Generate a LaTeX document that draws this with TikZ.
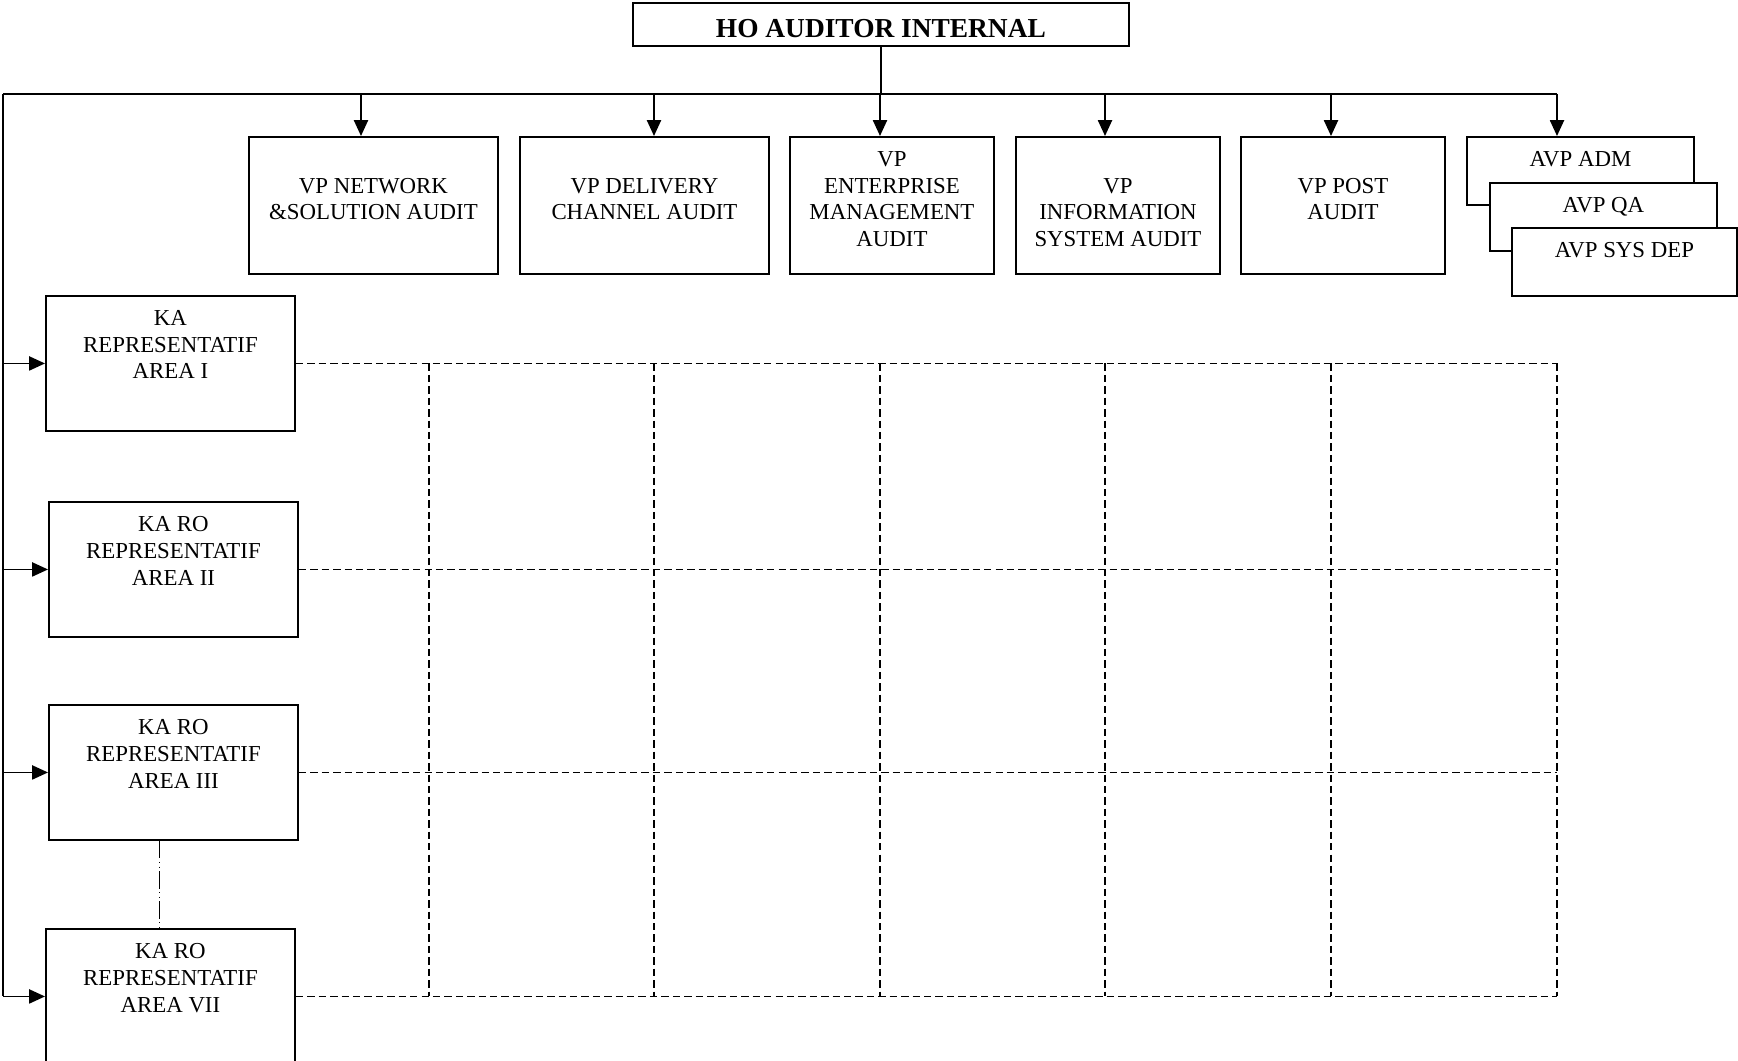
\documentclass[tikz,border=0pt]{standalone}
\usepackage{fontspec}
\setmainfont{Liberation Serif}
\usepackage{tikz}
\usetikzlibrary{positioning, arrows.meta, shapes.geometric}

\tikzset{
    unitbox/.style={draw, line width=1.1pt, fill=white, rectangle, anchor=north west,
        align=center, inner sep=2pt, font=\fontsize{13}{15.1}\selectfont},
    textlabel/.style={anchor=north, yshift=-8.8pt, inner sep=0pt, align=center,
        font=\fontsize{13}{15.1}\selectfont},
    topbox/.style={unitbox, label={[textlabel]north:#1}},
    vpbox/.style={unitbox, minimum height=2.74cm, label={[textlabel, yshift=-15pt]north:#1}},
    link/.style={line width=1pt},
    arr/.style={link, -{Triangle[length=9pt, width=8pt]}},
    grid/.style={line width=1pt, dash pattern=on 4.2pt off 2.3pt},
    skipline/.style={line width=1pt, dash pattern=on 10pt off 2pt on 0.6pt off 2pt on 0.6pt off 2pt}
}

\begin{document}
\begin{tikzpicture}[x=0.02cm, y=-0.02cm]
    \useasboundingbox (0,0) rectangle (1738,1061);

    % head
    \node[unitbox, minimum width=9.92cm, minimum height=0.86cm, text height=15.4pt,
        font=\fontsize{15.6}{18}\selectfont\bfseries] (ho) at (632,2) {HO AUDITOR INTERNAL};

    % vp row
    \node[vpbox={VP NETWORK\\\&SOLUTION AUDIT}, minimum width=4.98cm] (vp1) at (248,136) {};
    \node[vpbox={VP DELIVERY\\CHANNEL AUDIT}, minimum width=4.98cm] (vp2) at (519,136) {};
    \node[topbox={VP\\ENTERPRISE\\MANAGEMENT\\AUDIT}, minimum width=4.08cm, minimum height=2.74cm] (vp3) at (789,136) {};
    \node[vpbox={VP\\INFORMATION\\SYSTEM AUDIT}, minimum width=4.08cm] (vp4) at (1015,136) {};
    \node[vpbox={VP POST\\AUDIT}, minimum width=4.08cm] (vp5) at (1240,136) {};

    % avp stack
    \node[topbox={AVP ADM}, minimum width=4.54cm, minimum height=1.36cm] (adm) at (1466,136) {};
    \node[topbox={AVP QA}, minimum width=4.54cm, minimum height=1.36cm] (qa) at (1489,182) {};
    \node[topbox={AVP SYS DEP}, minimum width=4.5cm, minimum height=1.36cm] (sysdep) at (1511,227) {};

    % area offices
    \node[topbox={KA\\REPRESENTATIF\\AREA I}, minimum width=4.98cm, minimum height=2.7cm] (ka1) at (45,295) {};
    \node[topbox={KA RO\\REPRESENTATIF\\AREA II}, minimum width=4.98cm, minimum height=2.7cm] (ka2) at (48,501) {};
    \node[topbox={KA RO\\REPRESENTATIF\\AREA III}, minimum width=4.98cm, minimum height=2.7cm] (ka3) at (48,704) {};
    \node[topbox={KA RO\\REPRESENTATIF\\AREA VII}, minimum width=4.98cm, minimum height=2.7cm] (ka4) at (45,928) {};

    % bus
    \coordinate (corner) at (3,94);
    \coordinate (t1) at (361,94);
    \coordinate (t2) at (654,94);
    \coordinate (t3) at (880,94);
    \coordinate (t4) at (1105,94);
    \coordinate (t5) at (1331,94);
    \coordinate (t6) at (1557,94);
    \coordinate (c1) at (429,94);

    \draw[link] (ho.south) -- (ho.south |- corner);
    \draw[link] (corner) -- (t6);
    \draw[link] (corner) -- (corner |- ka4.west);

    \draw[arr] (t1) -- (t1 |- vp1.north);
    \draw[arr] (t2) -- (t2 |- vp2.north);
    \draw[arr] (t3) -- (t3 |- vp3.north);
    \draw[arr] (t4) -- (t4 |- vp4.north);
    \draw[arr] (t5) -- (t5 |- vp5.north);
    \draw[arr] (t6) -- (t6 |- adm.north);

    \foreach \k in {ka1,ka2,ka3,ka4}
        \draw[arr] (corner |- \k.west) -- (\k.west);

    % matrix lines
    \foreach \k in {ka1,ka2,ka3,ka4}
        \draw[grid] (\k.east) -- (\k.east -| t6);
    \foreach \c in {c1,t2,t3,t4,t5,t6}
        \draw[grid] (\c |- ka1.east) -- (\c |- ka4.east);

    \coordinate (gap) at ([xshift=-0.28cm]ka3.south);
    \draw[skipline] (gap) -- (gap |- ka4.north);
\end{tikzpicture}
\end{document}
